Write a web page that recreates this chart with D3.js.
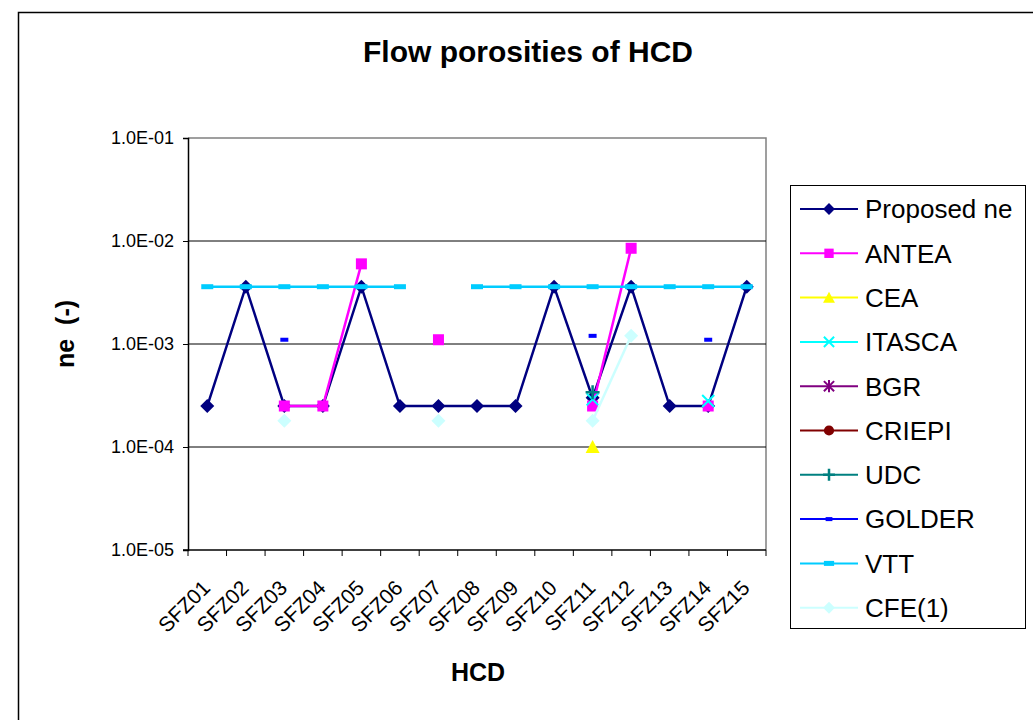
<!DOCTYPE html>
<html><head><meta charset="utf-8">
<script src="https://cdn.jsdelivr.net/npm/d3@7"></script>
<style>
html,body{margin:0;padding:0;background:#fff;}
svg{display:block;font-family:"Liberation Sans",Arial,sans-serif;}
</style></head>
<body><svg id="c" width="1033" height="720"></svg>
<script>
const categories = ["SFZ01","SFZ02","SFZ03","SFZ04","SFZ05","SFZ06","SFZ07","SFZ08","SFZ09","SFZ10","SFZ11","SFZ12","SFZ13","SFZ14","SFZ15"];
const proposedNe = [2.5e-4,3.6e-3,2.5e-4,2.5e-4,3.6e-3,2.5e-4,2.5e-4,2.5e-4,2.5e-4,3.6e-3,3.0e-4,3.6e-3,2.5e-4,2.5e-4,3.6e-3];
const antea  = [null,null,2.5e-4,2.5e-4,6.0e-3,null,1.1e-3,null,null,null,2.5e-4,8.5e-3,null,2.5e-4,null];
const cea    = [null,null,null,null,null,null,null,null,null,null,1.0e-4,null,null,null,null];
const itasca = [null,null,null,null,null,null,null,null,null,null,2.9e-4,null,null,2.8e-4,null];
const bgr    = [null,null,null,null,null,null,null,null,null,null,null,null,null,null,null];
const criepi = [null,null,null,null,null,null,null,null,null,null,null,null,null,null,null];
const udc    = [null,null,null,null,null,null,null,null,null,null,3.4e-4,null,null,null,null];
const golder = [null,null,1.1e-3,null,null,null,null,null,null,null,1.2e-3,null,null,1.1e-3,null];
const vtt    = [3.6e-3,3.6e-3,3.6e-3,3.6e-3,3.6e-3,3.6e-3,null,3.6e-3,3.6e-3,3.6e-3,3.6e-3,3.6e-3,3.6e-3,3.6e-3,3.6e-3];
const cfe    = [null,null,1.8e-4,null,null,null,1.8e-4,null,null,null,1.8e-4,1.2e-3,null,null,null];
const yTicks = [1e-5,1e-4,1e-3,1e-2,1e-1];
const seriesNames = ["Proposed ne","ANTEA","CEA","ITASCA","BGR","CRIEPI","UDC","GOLDER","VTT","CFE(1)"];
const seriesData = [proposedNe,antea,cea,itasca,bgr,criepi,udc,golder,vtt,cfe];
const seriesColors = ["#000080","#FF00FF","#FFFF00","#00FFFF","#800080","#800000","#008080","#0000FF","#00CCFF","#CCFFFF"];
const seriesMarkers = ["diamond","square","triangle","x","star","circle","plus","dash","wdash","diamond"];

const svg = d3.select("#c");
svg.append("rect").attr("x",18.5).attr("y",12.5).attr("width",1040).attr("height",740)
  .attr("fill","none").attr("stroke","#000").attr("stroke-width",1.5);

const L=188, R=766, T=138, B=550;
const x = d3.scaleBand().domain(categories).range([L,R]);
const y = d3.scaleLog().domain([1e-5,1e-1]).range([B,T]);
const fmt = d => { const s=d3.format(".1e")(d); const [m,e]=s.split("e"); const n=+e; return m+"E"+(n<0?"-":"+")+String(Math.abs(n)).padStart(2,"0"); };

svg.append("path").attr("d",`M${L},${T}H${R}V${B}`).attr("fill","none").attr("stroke","#808080").attr("stroke-width",1.5);
svg.append("g").selectAll("line").data(yTicks.filter(t=>t>1e-5&&t<1e-1)).join("line")
  .attr("x1",L).attr("x2",R).attr("y1",d=>y(d)).attr("y2",d=>y(d)).attr("stroke","#000").attr("stroke-width",1);

const ya = svg.append("g").attr("transform",`translate(${L},0)`)
  .call(d3.axisLeft(y).tickValues(yTicks).tickFormat(fmt).tickSize(5).tickPadding(9));
ya.select(".domain").attr("stroke","#000").attr("stroke-width",1.5);
ya.selectAll(".tick line").attr("stroke","#000");
ya.selectAll("text").style("font-size","18px").style("font-family","'Liberation Sans', Arial, sans-serif").attr("fill","#000");

const xa = svg.append("g").attr("transform",`translate(0,${B})`)
  .call(d3.axisBottom(x).tickSize(0).tickFormat(d=>d));
xa.select(".domain").remove();
xa.selectAll("text").style("font-size","21px").style("font-family","'Liberation Sans', Arial, sans-serif")
  .attr("fill","#000").attr("text-anchor","end")
  .attr("transform",`translate(-1,34) rotate(-45)`).attr("dy","0.35em").attr("y",0);
svg.append("line").attr("x1",L-5).attr("x2",R).attr("y1",B).attr("y2",B).attr("stroke","#000").attr("stroke-width",1.5);
const edges = categories.map(c=>x(c)).concat([x(categories[categories.length-1])+x.bandwidth()]);
svg.append("g").selectAll("line").data(edges).join("line")
  .attr("x1",d=>d).attr("x2",d=>d).attr("y1",B).attr("y2",B+6).attr("stroke","#000").attr("stroke-width",1);

svg.append("text").attr("x",478).attr("y",681).attr("text-anchor","middle").attr("font-weight","bold").style("font-size","25px").text("HCD");
svg.append("text").attr("transform","translate(74,334) rotate(-90)").attr("text-anchor","middle").attr("font-weight","bold").style("font-size","25px").style("white-space","pre").text("ne  (-)");
svg.append("text").attr("x",528).attr("y",62).attr("text-anchor","middle").attr("font-weight","bold").style("font-size","30px").text("Flow porosities of HCD");

function marker(g, type, color, s){
  s = s||1;
  if(type==="diamond"){ const r=7*s; g.append("path").attr("d",`M0,${-r}L${r},0L0,${r}L${-r},0Z`).attr("fill",color); }
  else if(type==="square"){ const r=5.5*s; g.append("rect").attr("x",-r).attr("y",-r).attr("width",2*r).attr("height",2*r).attr("fill",color); }
  else if(type==="triangle"){ const r=7*s; g.append("path").attr("d",`M0,${-r}L${r},${r*0.85}L${-r},${r*0.85}Z`).attr("fill",color); }
  else if(type==="x"){ const r=6*s; g.append("path").attr("d",`M${-r},${-r}L${r},${r}M${-r},${r}L${r},${-r}`).attr("stroke",color).attr("stroke-width",2); }
  else if(type==="star"){ const r=6*s; g.append("path").attr("d",`M${-r},${-r}L${r},${r}M${-r},${r}L${r},${-r}M0,${-r-1}V${r+1}`).attr("stroke",color).attr("stroke-width",2); }
  else if(type==="circle"){ g.append("circle").attr("r",6*s).attr("fill",color); }
  else if(type==="plus"){ const r=7*s; g.append("path").attr("d",`M${-r},0H${r}M0,${-r}V${r}`).attr("stroke",color).attr("stroke-width",2.5); }
  else if(type==="dash"){ g.append("rect").attr("x",-4*s).attr("y",-2).attr("width",8*s).attr("height",4).attr("fill",color); }
  else if(type==="wdash"){ g.append("rect").attr("x",-6*s).attr("y",-2.5).attr("width",12*s).attr("height",5).attr("fill",color); }
}

const cx = c => x(c)+x.bandwidth()/2;
const line = d3.line().defined(d=>d.v!=null).x(d=>cx(d.c)).y(d=>y(d.v));
const plot = svg.append("g");
seriesData.forEach((arr,i)=>{
  const pts = arr.map((v,j)=>({c:categories[j],v}));
  plot.append("path").attr("d",line(pts)).attr("fill","none").attr("stroke",seriesColors[i]).attr("stroke-width",2.5);
  pts.filter(p=>p.v!=null).forEach(p=>{
    const g = plot.append("g").attr("transform",`translate(${cx(p.c)},${y(p.v)})`);
    marker(g, seriesMarkers[i], seriesColors[i], 1);
  });
});

const lg = svg.append("g");
lg.append("rect").attr("x",790.5).attr("y",185.5).attr("width",235).attr("height",443).attr("fill","#fff").attr("stroke","#000").attr("stroke-width",1);
seriesNames.forEach((n,i)=>{
  const yy = 209 + i*44.3;
  lg.append("line").attr("x1",800).attr("x2",858).attr("y1",yy).attr("y2",yy).attr("stroke",seriesColors[i]).attr("stroke-width",2);
  const g = lg.append("g").attr("transform",`translate(829,${yy})`);
  marker(g, seriesMarkers[i], seriesColors[i], 0.85);
  lg.append("text").attr("x",865).attr("y",yy).attr("dy","0.36em").style("font-size","26px").attr("fill","#000").text(n);
});
</script></body></html>
